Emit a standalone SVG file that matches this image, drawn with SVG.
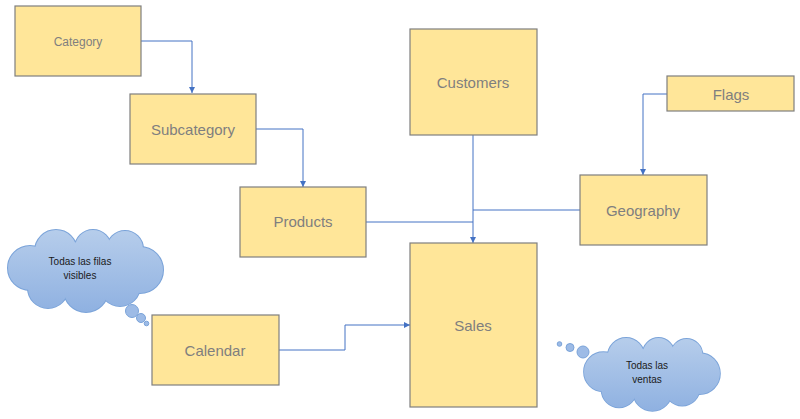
<svg xmlns="http://www.w3.org/2000/svg" xmlns:xlink="http://www.w3.org/1999/xlink" width="800" height="419" viewBox="0 0 800 419">
<style>
.node rect{fill:#ffe699;stroke:#7f7f7f;stroke-width:1.2}
.node text{font-family:"Liberation Sans",Arial,sans-serif;fill:#7f7f7f;text-anchor:middle}
.conn path{fill:none;stroke:#4472c4;stroke-width:1}
.ct{font-family:"Liberation Sans",Arial,sans-serif;font-size:10px;fill:#1a1a1a;text-anchor:middle}
.bub{fill:#9dbbe6;stroke:#7aa3d9;stroke-width:1}
</style>
<defs>
<marker id="arr" viewBox="0 0 10 10" refX="10" refY="5" markerWidth="6" markerHeight="6" orient="auto" markerUnits="userSpaceOnUse">
<path d="M0,0 L10,5 L0,10 z" fill="#4472c4"/>
</marker>
<linearGradient id="cg" gradientUnits="userSpaceOnUse" x1="0" y1="0" x2="0" y2="82">
<stop offset="0" stop-color="#b6cdeb"/>
<stop offset="1" stop-color="#8fb1e1"/>
</linearGradient>
<g id="cloudShapes">
<circle cx="22" cy="38" r="22"/>
<circle cx="48" cy="21" r="21"/>
<circle cx="85" cy="18" r="18"/>
<circle cx="117" cy="19" r="18"/>
<circle cx="132" cy="40" r="23"/>
<circle cx="112" cy="56" r="20"/>
<circle cx="78" cy="60" r="22"/>
<circle cx="40" cy="58" r="20"/>
<ellipse cx="78" cy="40" rx="52" ry="28"/>
</g>
<g id="cloud">
<use xlink:href="#cloudShapes" fill="url(#cg)" stroke="#7aa3d9" stroke-width="2"/>
<use xlink:href="#cloudShapes" fill="url(#cg)" stroke="none"/>
</g>
</defs>
<rect width="800" height="419" fill="#ffffff"/>

<g id="connectors" class="conn">
<path d="M141,41 H192 V93" marker-end="url(#arr)"/>
<path d="M256,129 H303 V187" marker-end="url(#arr)"/>
<path d="M366,222 H473"/>
<path d="M473,135 V243" marker-end="url(#arr)"/>
<path d="M580,210 H473"/>
<path d="M667,94 H643 V175" marker-end="url(#arr)"/>
<path d="M279,350 H345 V325 H410" marker-end="url(#arr)"/>
</g>

<g id="category" class="node"><rect x="15" y="6" width="126" height="70"/><text x="78" y="46" font-size="12">Category</text></g>
<g id="subcategory" class="node"><rect x="130" y="94" width="126" height="70"/><text x="193" y="135" font-size="15">Subcategory</text></g>
<g id="products" class="node"><rect x="240" y="187" width="126" height="70"/><text x="303" y="227" font-size="15">Products</text></g>
<g id="customers" class="node"><rect x="410" y="29" width="127" height="106"/><text x="473" y="88" font-size="15">Customers</text></g>
<g id="flags" class="node"><rect x="667" y="76" width="127" height="35"/><text x="731" y="100" font-size="15">Flags</text></g>
<g id="geography" class="node"><rect x="580" y="175" width="127" height="70"/><text x="643" y="216" font-size="15">Geography</text></g>
<g id="sales" class="node"><rect x="410" y="243" width="127" height="164"/><text x="473" y="331" font-size="15">Sales</text></g>
<g id="calendar" class="node"><rect x="152" y="315" width="127" height="70"/><text x="215" y="356" font-size="15">Calendar</text></g>

<g id="cloud1">
<use xlink:href="#cloud" transform="translate(8,230)"/>
<circle class="bub" cx="132" cy="311" r="6.5"/>
<circle class="bub" cx="141" cy="318" r="4.5"/>
<circle class="bub" cx="146.5" cy="323.5" r="2.3"/>
<text class="ct" x="80" y="265">Todas las filas</text>
<text class="ct" x="80" y="279">visibles</text>
</g>

<g id="cloud2">
<use xlink:href="#cloud" transform="translate(584,338) scale(0.877,0.89)"/>
<circle class="bub" cx="583" cy="352" r="6"/>
<circle class="bub" cx="570" cy="347.5" r="4"/>
<circle class="bub" cx="559.5" cy="344" r="2.3"/>
<text class="ct" x="647" y="369">Todas las</text>
<text class="ct" x="647" y="383">ventas</text>
</g>
</svg>
